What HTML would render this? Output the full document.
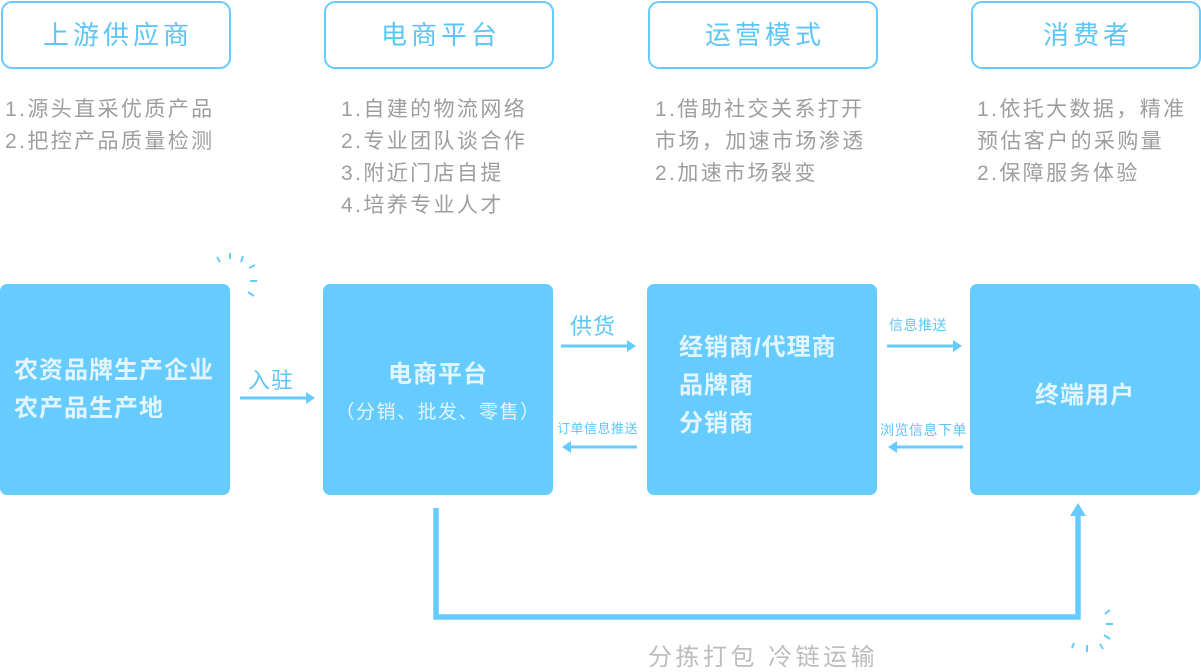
<!DOCTYPE html>
<html><head><meta charset="utf-8"><style>
body{margin:0;width:1201px;height:666px;background:#fff;position:relative;overflow:hidden;font-family:"Liberation Sans","Noto Sans CJK SC",sans-serif}
.h{position:absolute;top:1px;width:226px;height:64px;border:2px solid #66ccff;border-radius:11px;color:#5cc6f7;font-size:26px;letter-spacing:4px;text-indent:4px;text-align:center;line-height:64px}
.l{position:absolute;top:94px;color:#9e9e9e;font-size:21px;line-height:32px;letter-spacing:2.4px;white-space:nowrap}
.b{position:absolute;top:284px;width:230px;height:211px;background:#66ccff;border-radius:7px;color:#e3f6ff;font-weight:bold;font-size:24px;letter-spacing:1px}
.t{position:absolute;color:#5cc6f7;white-space:nowrap}
</style></head><body>
<div class="h" style="left:1px">上游供应商</div>
<div class="h" style="left:324px">电商平台</div>
<div class="h" style="left:648px">运营模式</div>
<div class="h" style="left:971px">消费者</div>
<div class="l" style="left:5px">1.源头直采优质产品<br>2.把控产品质量检测</div>
<div class="l" style="left:341px">1.自建的物流网络<br>2.专业团队谈合作<br>3.附近门店自提<br>4.培养专业人才</div>
<div class="l" style="left:655px">1.借助社交关系打开<br>市场，加速市场渗透<br>2.加速市场裂变</div>
<div class="l" style="left:977px">1.依托大数据，精准<br>预估客户的采购量<br>2.保障服务体验</div>
<div class="b" style="left:0"><div style="position:absolute;left:14px;top:68px;line-height:38px">农资品牌生产企业<br>农产品生产地</div></div>
<div class="b" style="left:323px"><div style="position:absolute;left:0;right:0;top:70px;text-align:center">电商平台</div><div style="position:absolute;left:0;right:0;top:113px;text-align:center;font-weight:normal;font-size:19px;letter-spacing:1.5px">（分销、批发、零售）</div></div>
<div class="b" style="left:647px"><div style="position:absolute;left:32px;top:45px;line-height:38px">经销商/代理商<br>品牌商<br>分销商</div></div>
<div class="b" style="left:970px"><div style="position:absolute;left:0;right:0;top:91px;text-align:center">终端用户</div></div>
<div class="t" style="left:248px;top:363px;font-size:22px;letter-spacing:1px">入驻</div>
<div class="t" style="left:570px;top:309px;font-size:22px;letter-spacing:1px">供货</div>
<div class="t" style="left:557px;top:418px;font-size:13px;letter-spacing:0.5px">订单信息推送</div>
<div class="t" style="left:889px;top:315px;font-size:14px;letter-spacing:0.5px">信息推送</div>
<div class="t" style="left:880px;top:420px;font-size:14px;letter-spacing:0.5px">浏览信息下单</div>
<div class="t" style="left:648px;top:637px;font-size:24px;color:#bdbdbd;letter-spacing:3.5px">分拣打包 冷链运输</div>
<svg width="1201" height="666" style="position:absolute;left:0;top:0" fill="#66ccff" stroke="#66ccff">
<g stroke-width="3">
<line x1="240" y1="398" x2="308" y2="398"/><line x1="561" y1="346" x2="629" y2="346"/>
<line x1="570" y1="447" x2="637" y2="447"/><line x1="887" y1="346" x2="955" y2="346"/>
<line x1="895" y1="447" x2="963" y2="447"/></g>
<g stroke="none">
<polygon points="315,398 306,392 306,404"/><polygon points="636,346 627,340 627,352"/>
<polygon points="562,447 571,441 571,453"/><polygon points="962,346 953,340 953,352"/>
<polygon points="888,447 897,441 897,453"/>
<polygon points="1078,503 1070,516 1086,516"/></g>
<polyline points="436,508 436,617 1078,617 1078,514" fill="none" stroke-width="5.5"/>
<g stroke-width="2">
<line x1="217" y1="257" x2="220" y2="262"/><line x1="230" y1="253" x2="230" y2="259"/>
<line x1="243" y1="256" x2="241" y2="262"/><line x1="249" y1="268" x2="255" y2="265"/>
<line x1="250" y1="281" x2="257" y2="281"/><line x1="248" y1="292" x2="254" y2="296"/>
<line x1="1105" y1="614" x2="1110" y2="610"/><line x1="1106" y1="624" x2="1113" y2="624"/>
<line x1="1104" y1="635" x2="1110" y2="639"/><line x1="1100" y1="644" x2="1103" y2="649"/>
<line x1="1087" y1="645" x2="1087" y2="652"/><line x1="1074" y1="643" x2="1072" y2="648"/>
</g></svg>
</body></html>
